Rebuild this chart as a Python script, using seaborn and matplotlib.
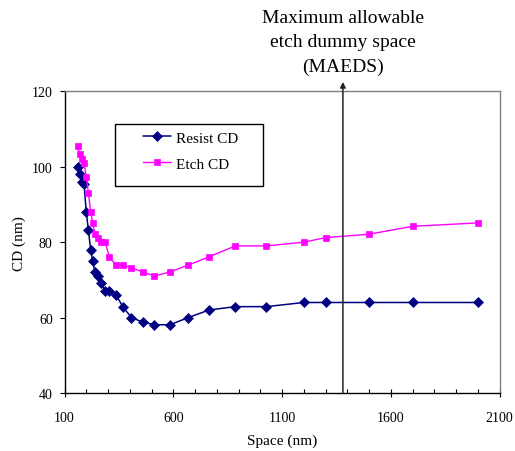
import matplotlib
matplotlib.use("Agg")
import matplotlib.pyplot as plt
import matplotlib.transforms as mtransforms
from matplotlib.patches import Rectangle
from matplotlib.ticker import FixedLocator, MultipleLocator
import pandas as pd
import seaborn as sns

# Line spacing (nm) shared by both measurements
space_nm = [160, 170, 180, 190, 200, 210, 220, 230, 240, 255, 268, 287, 306,
            337, 369, 408, 460, 513, 585, 669, 764, 885, 1028, 1200, 1300,
            1500, 1700, 2000]
# Critical dimension after lithography (nm)
resist_cd = [100, 98, 96, 95.3, 88, 83.2, 78, 75, 72, 71, 69.3, 67, 67,
             66, 62.8, 60, 58.8, 58.1, 58.1, 60, 62, 62.9, 62.9, 64, 64,
             64, 64, 64]
# Critical dimension after etch (nm)
etch_cd = [105.4, 103.3, 102, 101.1, 97.3, 93.1, 88.1, 85.1, 82.2, 81.2, 80,
           80, 76.1, 73.9, 73.9, 73.2, 72.1, 71, 72.1, 73.9, 76.1, 79, 79,
           80, 81.2, 82.1, 84.2, 85.1]
series_names = ["Resist CD", "Etch CD"]
x_ticks = [100, 600, 1100, 1600, 2100]
y_ticks = [40, 60, 80, 100, 120]
maeds_space = 1380
maeds_label = "Maximum allowable\netch dummy space\n(MAEDS)"
x_label = "Space (nm)"
y_label = "CD (nm)"

sns.set_style("ticks", {"axes.edgecolor": "black", "xtick.color": "black",
                        "ytick.color": "black", "text.color": "black",
                        "axes.labelcolor": "black"})
plt.rcParams["font.family"] = ["Liberation Serif", "DejaVu Serif"]

resist_df = pd.DataFrame({"space": space_nm, "cd": resist_cd})
etch_df = pd.DataFrame({"space": space_nm, "cd": etch_cd})

W, H = 515, 452
fig = plt.figure(figsize=(W / 100, H / 100), dpi=100)
ax = fig.add_axes([64.5 / W, 1 - 394 / H, 435 / W, 301.7 / H])

navy = "#000080"
magenta = "#FF00FF"
sns.lineplot(data=resist_df, x="space", y="cd", ax=ax, color=navy,
             marker="D", markersize=4.8, markeredgecolor=navy,
             markeredgewidth=0.5, linewidth=1.1, label=series_names[0])
sns.lineplot(data=etch_df, x="space", y="cd", ax=ax, color=magenta,
             marker="s", markersize=4.6, markeredgecolor=magenta,
             markeredgewidth=0.5, linewidth=1.0, label=series_names[1])

ax.set_xlim(x_ticks[0], x_ticks[-1])
ax.set_ylim(y_ticks[0], y_ticks[-1])
ax.xaxis.set_major_locator(FixedLocator(x_ticks))
ax.xaxis.set_minor_locator(MultipleLocator(100))
ax.yaxis.set_major_locator(FixedLocator(y_ticks))
ax.tick_params(axis="x", which="major", direction="inout", length=6,
               width=0.8, pad=10, labelsize=10)
ax.tick_params(axis="x", which="minor", direction="in", length=3, width=0.8)
ax.tick_params(axis="y", which="major", direction="out", length=3.5,
               width=0.8, pad=5, labelsize=10)

for side in ("left", "bottom"):
    ax.spines[side].set_color("black")
    ax.spines[side].set_linewidth(1.0)
for side in ("top", "right"):
    ax.spines[side].set_color("#808080")
    ax.spines[side].set_linewidth(1.0)

ax.set_xlabel(x_label, fontsize=11)
ax.set_ylabel(y_label, fontsize=11)
ax.xaxis.set_label_coords(0.5, -0.135)
ax.yaxis.set_label_coords(-0.088, 0.5)

# Legend with a square black frame
leg = ax.legend(loc="upper left", bbox_to_anchor=(0.180, 0.868),
                frameon=False, fontsize=11, borderpad=0, borderaxespad=0,
                handlelength=1.85, handletextpad=0.3, labelspacing=0.8)
ax.add_patch(Rectangle((0.116, 0.686), 0.340, 0.206, transform=ax.transAxes,
                       fill=False, edgecolor="black", linewidth=1.0,
                       clip_on=False, zorder=5))

# MAEDS marker: vertical arrow rising above the plot area
ax.annotate("", xy=(maeds_space, 122.5), xytext=(maeds_space, 40),
            xycoords="data", annotation_clip=False,
            arrowprops=dict(arrowstyle="-|>", color="#222222", lw=1.1,
                            mutation_scale=8, shrinkA=0, shrinkB=0))
trans = mtransforms.blended_transform_factory(ax.transData, fig.transFigure)
ax.text(maeds_space, 1 - 10 / H, maeds_label, transform=trans, ha="center",
        va="top", fontsize=14, linespacing=1.55)

fig.savefig("out.png", dpi=100, facecolor="white")
